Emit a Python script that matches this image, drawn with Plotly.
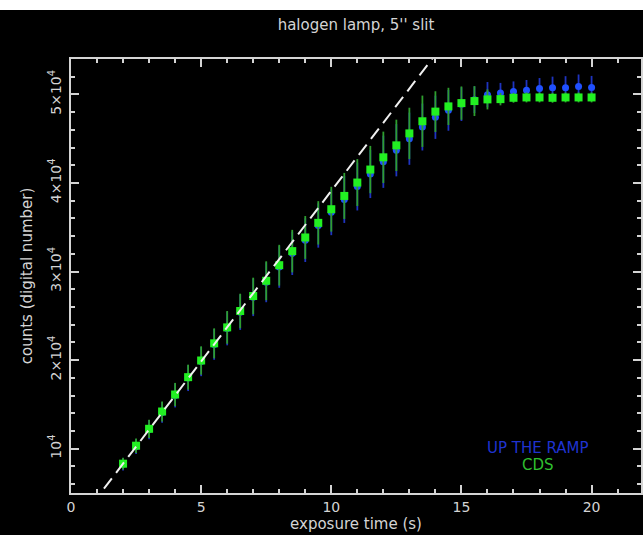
import plotly.graph_objects as go

# ---- data ----
exposure_time = [2.0, 2.5, 3.0, 3.5, 4.0, 4.5, 5.0, 5.5, 6.0, 6.5, 7.0, 7.5, 8.0, 8.5,
                 9.0, 9.5, 10.0, 10.5, 11.0, 11.5, 12.0, 12.5, 13.0, 13.5, 14.0, 14.5,
                 15.0, 15.5, 16.0, 16.5, 17.0, 17.5, 18.0, 18.5, 19.0, 19.5, 20.0]

cds_counts = [8310, 10340, 12250, 14200, 16120, 18080, 19960, 21900, 23700, 25550,
              27240, 28960, 30720, 32310, 33850, 35500, 37040, 38540, 40050, 41520,
              42900, 44250, 45600, 46970, 48060, 48650, 49020, 49250, 49440, 49470,
              49620, 49660, 49660, 49620, 49660, 49660, 49660]
cds_err = [660, 810, 1030, 1130, 1310, 1410, 1600, 1690, 1850, 1950, 2070, 2200,
           2300, 2400, 2420, 2450, 2530, 2600, 2650, 2670, 2900, 2900, 2900, 2900,
           2300, 2100, 1880, 1690, 1130, 700, 560, 560, 560, 560, 560, 560, 560]

utr_counts = [8250, 10260, 12160, 14100, 16020, 17970, 19840, 21780, 23570, 25410,
              27090, 28790, 30520, 32060, 33550, 35200, 36690, 38140, 39600, 41020,
              42400, 43700, 45000, 46320, 47420, 48200, 48900, 49400, 49970, 50150,
              50340, 50480, 50680, 50760, 50760, 50900, 50790]
utr_err = [700, 850, 1080, 1180, 1360, 1460, 1650, 1740, 1900, 2000, 2120, 2250,
           2350, 2450, 2470, 2500, 2580, 2650, 2700, 2720, 2950, 2950, 2950, 2650,
           2440, 2300, 1900, 1500, 1430, 1150, 1130, 1150, 1170, 1250, 1300, 1350, 1300]

fit_x = [0.8, 14.3]
fit_y = [3690, 55660]

x_tickvals = [0, 5, 10, 15, 20]
x_ticktext = ["0", "5", "10", "15", "20"]
y_tickvals = [10000, 20000, 30000, 40000, 50000]
y_ticktext = ["10<sup>4</sup>", "2×10<sup>4</sup>", "3×10<sup>4</sup>",
              "4×10<sup>4</sup>", "5×10<sup>4</sup>"]

title_text = "halogen lamp, 5'' slit"
x_title = "exposure time (s)"
y_title = "counts (digital number)"
legend_labels = ["UP THE RAMP", "CDS"]

# ---- style ----
FG = "#d4d4d4"
FONT = "DejaVu Sans"
W, H = 643, 535
ML, MR, MT, MB = 71, 0, 59, 42

fig = go.Figure()

fig.add_trace(go.Scatter(
    x=exposure_time, y=utr_counts, mode="markers",
    marker=dict(symbol="circle", size=7, color="#2050ff", line=dict(width=0)),
    error_y=dict(type="data", array=utr_err, visible=True, color="#1f34c0",
                 thickness=1.8, width=0),
    showlegend=False))

fig.add_trace(go.Scatter(
    x=exposure_time, y=cds_counts, mode="markers",
    marker=dict(symbol="square", size=8, color="#22f022", line=dict(width=0)),
    error_y=dict(type="data", array=cds_err, visible=True, color="#2e9e2e",
                 thickness=1.8, width=0),
    showlegend=False))

fig.add_trace(go.Scatter(
    x=fit_x, y=fit_y, mode="lines",
    line=dict(color="#f0f0f0", width=2, dash="13px,7px"),
    showlegend=False))

axis_common = dict(
    showgrid=False, zeroline=False, showline=True, linecolor=FG, linewidth=1.5,
    mirror="allticks", ticks="inside", tickcolor=FG, tickwidth=1.5, ticklen=8,
    tickfont=dict(family=FONT, size=14, color=FG),
)

fig.update_xaxes(
    **axis_common, range=[0, (W - ML - MR) / 26.12],
    tickmode="array", tickvals=x_tickvals, ticktext=x_ticktext,
    minor=dict(dtick=1, tick0=0, ticks="inside", ticklen=4, tickcolor=FG, tickwidth=1.5),
    title=dict(text=x_title, font=dict(family=FONT, size=15, color=FG), standoff=4),
)
fig.update_yaxes(
    **axis_common, range=[5000, 54000],
    tickmode="array", tickvals=y_tickvals, ticktext=y_ticktext, tickangle=-90,
    ticklabelstandoff=3,
    minor=dict(dtick=2000, tick0=0, ticks="inside", ticklen=4, tickcolor=FG, tickwidth=1.5),
    title=dict(text=y_title, font=dict(family=FONT, size=15, color=FG), standoff=10),
)

for i, (lbl, col) in enumerate(zip(legend_labels, ["#1f33d0", "#2fbf2f"])):
    fig.add_annotation(x=17.96, y=[10110, 8200][i], xref="x", yref="y", text=lbl,
                       showarrow=False, font=dict(family=FONT, size=15, color=col))

plot_h = H - MT - MB
plot_w = W - ML - MR
fig.add_shape(type="rect", xref="paper", yref="paper",
              x0=-ML / plot_w - 0.01, x1=1.01,
              y0=1 + (MT - 10) / plot_h, y1=1 + (MT + 5) / plot_h,
              fillcolor="white", line=dict(width=0), layer="above")

fig.update_layout(
    width=W, height=H,
    margin=dict(l=ML, r=MR, t=MT, b=MB, pad=0),
    paper_bgcolor="black", plot_bgcolor="black",
    title=dict(text=title_text, x=0.5, xref="paper", xanchor="center",
               y=1 - 25 / H, yref="container", yanchor="middle",
               font=dict(family=FONT, size=15, color=FG)),
)

fig.write_html("out.html")
